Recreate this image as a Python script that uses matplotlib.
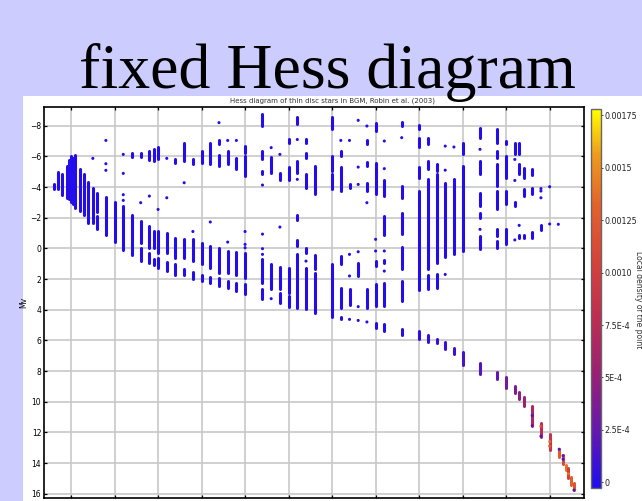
import numpy as np
import matplotlib
matplotlib.use("Agg")
import matplotlib.pyplot as plt
from matplotlib.colors import LinearSegmentedColormap, Normalize
from matplotlib.cm import ScalarMappable
from matplotlib.patches import Rectangle

# vertical runs of stars: (column, brightest Mv, faintest Mv)
col_bars = [
    (0.6, -4.2, -3.9), (0.7, -5.0, -3.85), (0.8, -4.87, -3.5), (0.9, -5.4, -3.3),
    (0.95, -5.76, -3.2), (1.0, -6.0, -3.0), (1.05, -5.9, -2.9), (1.1, -6.1, -2.65),
    (1.2, -5.15, -2.43), (1.3, -4.87, -2.15), (1.4, -4.35, -1.67), (1.5, -3.96, -1.67),
    (1.6, -3.63, -2.4), (1.6, -2.1, -1.24), (1.8, -3.37, -0.9), (2.0, -3.04, -0.41),
    (2.2, -2.76, 0.1), (2.4, -6.24, -5.96), (2.4, -2.2, 0.46),
    (2.6, -6.24, -5.96), (2.6, -1.78, -0.37), (2.6, -0.04, 0.83),
    (2.8, -6.35, -5.76), (2.8, -1.46, -0.04), (2.8, 0.28, 0.93),
    (2.9, -6.5, -5.7), (2.9, -1.13, -0.04), (2.9, 0.67, 1.1),
    (3.0, -6.63, -5.8), (3.0, -1.13, 0.28), (3.0, 0.6, 1.26),
    (3.2, -1.02, 0.28), (3.2, 0.89, 1.48),
    (3.4, -5.8, -5.59), (3.4, -0.7, 0.6), (3.4, 1.04, 1.76),
    (3.6, -6.85, -5.7), (3.6, -0.59, 0.6), (3.6, 1.37, 1.76),
    (3.8, -5.8, -5.48), (3.8, -0.59, 0.83), (3.8, 1.54, 1.98),
    (4.0, -6.35, -5.59), (4.0, -0.37, 1.04), (4.0, 1.76, 2.13),
    (4.2, -6.9, -5.48), (4.2, -0.15, 1.26), (4.2, 1.87, 2.28),
    (4.4, -7.04, -6.8), (4.4, -6.1, -5.37), (4.4, -0.04, 1.59), (4.4, 1.91, 2.46),
    (4.6, -6.35, -5.48), (4.6, 0.17, 1.63), (4.6, 2.13, 2.57),
    (4.8, -5.91, -5.15), (4.8, 0.24, 1.76), (4.8, 2.24, 2.78),
    (5.0, -6.67, -6.2), (5.0, -6.0, -4.72), (5.0, 0.28, 1.91), (5.0, 2.35, 3.0),
    (5.4, -8.74, -7.98), (5.4, -6.35, -5.8), (5.4, -5.04, -4.83), (5.4, 0.67, 2.24), (5.4, 2.63, 3.28),
    (5.6, -5.96, -4.93), (5.6, 1.04, 2.67),
    (5.8, -4.93, -4.43), (5.8, 1.22, 2.67), (5.8, 2.89, 3.54),
    (6.0, -7.15, -6.89), (6.0, -5.3, -4.43), (6.0, 1.26, 2.89), (6.0, 3.1, 3.8),
    (6.2, -8.56, -8.09), (6.2, -5.7, -4.93), (6.2, -2.2, -1.85), (6.2, -0.52, -0.15), (6.2, 0.39, 3.87),
    (6.4, -7.15, -6.89), (6.4, -6.24, -5.91), (6.4, -4.83, -3.96), (6.4, -0.04, 0.28), (6.4, 1.26, 3.98),
    (6.6, -5.37, -3.52), (6.6, 0.46, 1.37), (6.6, 1.59, 4.2),
    (7.0, -8.56, -7.76), (7.0, -6.02, -5.04), (7.0, -4.83, -3.85), (7.0, 1.04, 4.46),
    (7.2, -6.35, -6.02), (7.2, -5.3, -3.74), (7.2, 0.5, 1.04), (7.2, 2.57, 3.9), (7.2, 4.46, 4.59),
    (7.4, -4.22, -3.96), (7.4, 2.63, 3.72),
    (7.6, 0.93, 1.8),
    (7.8, -7.04, -6.78), (7.8, -5.63, -5.37), (7.8, -4.28, -3.74), (7.8, 2.67, 3.87),
    (8.0, -8.2, -7.65), (8.0, -5.59, -3.52), (8.0, 0.83, 1.15), (8.0, 2.35, 3.76), (8.0, 4.85, 5.17),
    (8.2, -4.43, -3.41), (8.2, -2.1, -0.9), (8.2, 0.76, 0.98), (8.2, 2.28, 3.76), (8.2, 4.96, 5.39),
    (8.6, -8.24, -7.98), (8.6, -4.07, -3.3), (8.6, -2.33, -0.91), (8.6, -0.1, 1.37), (8.6, 2.13, 3.43), (8.6, 5.24, 5.67),
    (9.0, -8.02, -7.8), (9.0, -7.22, -6.61), (9.0, -5.3, -4.61), (9.0, -3.74, 2.74),
    (9.2, -7.22, -6.78), (9.2, -5.7, -5.15), (9.2, -4.5, 1.37), (9.2, 1.76, 2.67),
    (9.4, -5.48, -5.04), (9.4, -4.83, 0.93), (9.4, 1.7, 2.57),
    (9.6, -4.28, 0.55), (9.8, -4.5, 0.39),
    (10.0, -6.89, -6.13), (10.0, -5.37, 0.2),
    (10.4, -7.87, -7.22), (10.4, -5.7, -4.83), (10.4, -3.63, -2.76), (10.4, -2.33, -2.0), (10.4, -0.8, 0.07),
    (10.8, -7.76, -6.89), (10.8, -6.35, -5.91), (10.8, -5.48, -4.07), (10.8, -3.74, -2.54),
    (10.8, -1.24, -0.8), (10.8, -0.48, -0.04),
    (11.0, -7.0, -6.78), (11.0, -6.02, -4.61), (11.0, -3.74, -2.87), (11.0, -1.24, -0.26),
    (11.2, -6.89, -6.13), (11.2, -3.02, -2.76),
    (11.3, -6.89, -6.13), (11.3, -5.5, -4.83), (11.3, -0.85, -0.65),
    (11.4, -5.26, -4.61), (11.4, -3.85, -3.41), (11.4, -0.85, -0.7),
    (11.6, -5.15, -4.76), (11.6, -3.96, -3.52), (11.6, -1.07, -0.7),
    (11.8, -1.5, -1.2),
]

# single stars: (column, Mv)
col_dots = [
    (1.5, -5.87), (1.8, -7.04), (1.8, -5.52), (1.8, -5.09),
    (2.2, -6.13), (2.2, -4.89), (2.2, -3.5), (2.2, -3.13),
    (2.6, -2.98), (2.8, -3.41), (3.0, -2.54), (3.2, -5.87), (3.2, -3.3),
    (3.6, -4.28), (3.8, -1.1), (4.2, -1.72), (4.4, -8.2),
    (4.6, -7.04), (4.6, -0.41), (4.8, -7.04),
    (5.0, -1.1), (5.0, -0.26), (5.0, -0.04),
    (5.4, -4.13), (5.4, -0.93), (5.4, 0.02), (5.4, 0.39),
    (5.6, -6.57), (5.6, 3.28), (5.8, -6.13), (5.8, -1.39),
    (6.2, -7.1), (6.2, -4.5), (6.4, 0.83), (7.2, -7.04),
    (7.4, -7.04), (7.4, 0.39), (7.4, 1.8), (7.4, 4.63),
    (7.6, -8.35), (7.6, -5.3), (7.6, -4.17), (7.6, 0.22), (7.6, 3.8), (7.6, 4.7),
    (7.8, -7.98), (7.8, -2.98), (7.8, 4.8),
    (8.0, -0.59), (8.0, 0.17),
    (8.2, -7.0), (8.2, -5.2), (8.2, 0.17), (8.2, 1.48),
    (8.6, -7.22), (9.6, -6.67), (9.6, -5.1), (9.6, 1.7), (9.8, -6.61),
    (10.4, -6.46), (10.4, -1.24),
    (11.2, -5.8), (11.2, -4.43), (11.2, -0.55), (11.3, -1.5),
    (11.8, -3.9), (11.8, -3.74), (11.8, -3.3),
    (12.0, -4.02), (12.0, -1.59), (12.2, -1.57),
]

# faint dwarf tail: (column, brightest Mv, faintest Mv, local density)
tail_bars = [
    (9.0, 5.4, 5.93, 0.4e-4), (9.2, 5.67, 6.11, 0.5e-4), (9.4, 5.89, 6.2, 0.6e-4),
    (9.6, 6.11, 6.59, 0.8e-4), (9.8, 6.48, 6.91, 1.0e-4), (10.0, 6.76, 7.63, 1.4e-4),
    (10.4, 7.46, 8.22, 1.8e-4), (10.8, 8.07, 8.5, 2.3e-4), (11.0, 8.37, 9.09, 3.3e-4),
    (11.2, 8.98, 9.46, 3.8e-4), (11.3, 9.37, 9.8, 4.6e-4), (11.4, 9.67, 10.28, 5.4e-4),
    (11.6, 10.28, 11.59, 6.6e-4), (11.8, 11.37, 12.28, 7.6e-4), (12.0, 12.13, 13.15, 8.8e-4),
    (12.22, 13.07, 13.59, 1.25e-3), (12.31, 13.5, 14.09, 1.1e-3), (12.37, 14.15, 14.46, 1.4e-3),
    (12.43, 14.3, 15.0, 1.0e-3), (12.5, 14.9, 15.46, 1.3e-3), (12.56, 15.33, 15.77, 1.2e-3),
]

# stars in the tail whose density differs from their neighbours
tail_dots = [
    (11.6, 10.9, 1.5e-4), (11.6, 11.55, 2.0e-4), (11.8, 12.25, 1.5e-4),
    (11.8, 11.6, 1.2e-3), (12.0, 12.6, 1.4e-3), (12.0, 12.9, 1.3e-3),
    (12.22, 13.1, 2.0e-4), (12.31, 13.52, 2.0e-4), (12.31, 13.75, 1.5e-4),
    (12.43, 14.7, 1.4e-3), (12.56, 15.77, 1.5e-4),
]

cbar_ticks = [0, 2.5e-4, 5e-4, 7.5e-4, 1e-3, 1.25e-3, 1.5e-3, 1.75e-3]
cbar_labels = ["0", "2.5E-4", "5E-4", "7.5E-4", "0.0010", "0.00125", "0.0015", "0.00175"]

cmap = LinearSegmentedColormap.from_list("dens", [
    (0.0, "#1e0cf0"), (0.15, "#6418b0"), (0.3, "#9a2074"), (0.45, "#c02c52"),
    (0.6, "#d8423a"), (0.75, "#e4622a"), (0.88, "#f09a1c"), (1.0, "#ffff00")])
norm = Normalize(vmin=-2.7e-5, vmax=1.78e-3)

W, H = 642, 501
fig = plt.figure(figsize=(W / 100, H / 100), dpi=100, facecolor="#ccccff")
fig.add_artist(Rectangle((23 / W, 0), 1, 405 / H, transform=fig.transFigure,
                         facecolor="white", edgecolor="none", zorder=-5))

fig.text(327 / W, (H - 88) / H, "fixed Hess diagram", family="Liberation Serif",
         fontsize=46, ha="center", va="baseline")

ax = fig.add_axes([44 / W, 3 / H, 540 / W, 391 / H])
ax.set_xlim(0.378, 12.79)
ax.set_ylim(16.28, -9.22)
ax.set_xticks(range(1, 13))
ax.set_yticks(range(-8, 17, 2))
ax.grid(color="#c8c8c8", linewidth=1.2)
ax.set_axisbelow(True)
ax.tick_params(direction="in", length=2.5, width=0.9, top=True, right=True,
               labelbottom=False, labelsize=5.5, pad=2)
for sp in ax.spines.values():
    sp.set_linewidth(1.2)
ax.set_ylabel("Mv", fontsize=5.5)
ax.yaxis.set_label_coords(-0.029, 0.5)

lw = 2.2
bx = [b[0] for b in col_bars]
blo = [b[1] for b in col_bars]
bhi = [b[2] for b in col_bars]
lc = ax.vlines(bx, blo, bhi, colors=[cmap(norm(0))], linewidth=lw)
lc.set_capstyle("round")
ax.scatter([d[0] for d in col_dots], [d[1] for d in col_dots], s=lw ** 2,
           c=np.zeros(len(col_dots)), cmap=cmap, norm=norm, linewidths=0)

tc = ax.vlines([t[0] for t in tail_bars], [t[1] for t in tail_bars],
               [t[2] for t in tail_bars],
               colors=cmap(norm(np.array([t[3] for t in tail_bars]))), linewidth=lw)
tc.set_capstyle("round")
ax.scatter([d[0] for d in tail_dots], [d[1] for d in tail_dots], s=lw ** 2,
           c=[d[2] for d in tail_dots], cmap=cmap, norm=norm, linewidths=0, zorder=3)

fig.text(333 / W, (H - 101) / H,
         "Hess diagram of thin disc stars in BGM, Robin et al. (2003)",
         fontsize=5, ha="center", va="center", color="#333333")

cax = fig.add_axes([590.7 / W, 13 / H, 10.3 / W, 379 / H])
cb = fig.colorbar(ScalarMappable(norm=norm, cmap=cmap), cax=cax)
cb.set_ticks(cbar_ticks)
cb.set_ticklabels(cbar_labels)
cb.outline.set_edgecolor("#666666")
cb.outline.set_linewidth(1.0)
cax.tick_params(labelsize=5.8, length=1.5, width=0.6, pad=1, colors="#222222")
fig.text(638 / W, (H - 300) / H, "Local density of the point", rotation=270,
         fontsize=5.5, ha="center", va="center", color="#333333")

fig.savefig("out.png", dpi=100, facecolor=fig.get_facecolor())
